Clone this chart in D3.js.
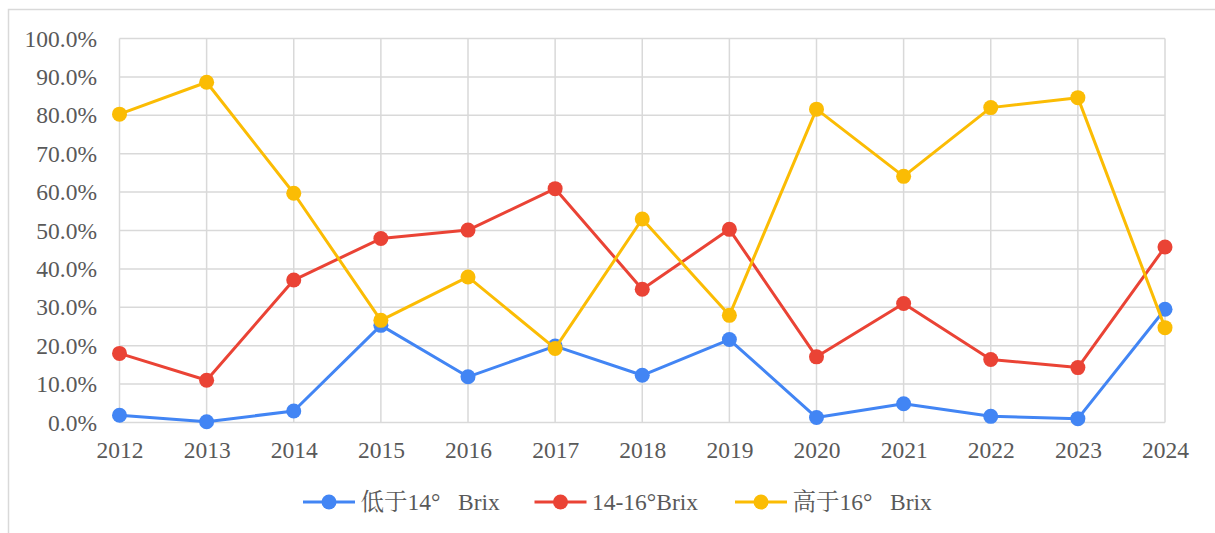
<!DOCTYPE html>
<html>
<head>
<meta charset="utf-8">
<script src="https://cdn.jsdelivr.net/npm/d3@7"></script>
<style>
  body { margin: 0; background: #fff; }
  svg { display: block; }
  text { font-family: "Liberation Serif", "Times New Roman", "Noto Serif CJK SC", serif; fill: #595959; }
</style>
</head>
<body>
<svg id="chart"></svg>
<script>
// data
var years = ["2012", "2013", "2014", "2015", "2016", "2017", "2018", "2019", "2020", "2021", "2022", "2023", "2024"];
var lowBrix = [1.9, 0.2, 3.0, 25.3, 11.9, 19.9, 12.3, 21.6, 1.3, 4.9, 1.6, 1.0, 29.5];
var midBrix = [18.0, 11.0, 37.1, 47.9, 50.1, 60.9, 34.7, 50.3, 17.1, 31.0, 16.4, 14.3, 45.7];
var highBrix = [80.3, 88.6, 59.7, 26.6, 37.9, 19.3, 53.0, 27.9, 81.6, 64.1, 82.0, 84.6, 24.7];
var seriesNames = ["低于14°\u00a0\u00a0\u00a0Brix", "14-16°Brix", "高于16°\u00a0\u00a0\u00a0Brix"];
var yTicks = [0, 10, 20, 30, 40, 50, 60, 70, 80, 90, 100];

var width = 1215, height = 533;
var svg = d3.select("#chart").attr("width", width).attr("height", height);

var colors = ["#4285F4", "#EA4335", "#FBBC04"];
var series = [lowBrix, midBrix, highBrix];
var fontSize = 23.5;

// outer chart border
svg.append("rect")
    .attr("x", 8.5).attr("y", 9.5)
    .attr("width", width).attr("height", height)
    .attr("fill", "none")
    .attr("stroke", "#d9d9d9")
    .attr("stroke-width", 1.5);

var x = d3.scalePoint().domain(years).range([119.5, 1165]);
var y = d3.scaleLinear().domain([0, 100]).range([422.5, 38.5]);

// grid
var grid = svg.append("g");
grid.selectAll("line.h")
    .data(yTicks)
    .enter().append("line")
    .attr("x1", x.range()[0]).attr("x2", x.range()[1])
    .attr("y1", function (d) { return y(d); })
    .attr("y2", function (d) { return y(d); })
    .attr("stroke", "#d9d9d9")
    .attr("stroke-width", 1.5);
grid.selectAll("line.v")
    .data(years)
    .enter().append("line")
    .attr("x1", function (d) { return x(d); })
    .attr("x2", function (d) { return x(d); })
    .attr("y1", y(0)).attr("y2", y(100))
    .attr("stroke", "#d9d9d9")
    .attr("stroke-width", 1.5);

// y axis labels
var yAxis = svg.append("g")
    .attr("transform", "translate(97,0)")
    .call(d3.axisLeft(y).tickValues(yTicks).tickSize(0).tickPadding(0)
        .tickFormat(function (d) { return d.toFixed(1) + "%"; }));
yAxis.select(".domain").remove();
yAxis.selectAll("text").attr("font-size", fontSize);

// x axis labels
var xAxis = svg.append("g")
    .attr("transform", "translate(0," + (y(0) + 19) + ")")
    .call(d3.axisBottom(x).tickSize(0).tickPadding(0));
xAxis.select(".domain").remove();
xAxis.selectAll("text").attr("font-size", fontSize);

// lines and markers
var line = d3.line()
    .x(function (d, i) { return x(years[i]); })
    .y(function (d) { return y(d); });

series.forEach(function (vals, s) {
    var g = svg.append("g");
    g.append("path")
        .datum(vals)
        .attr("d", line)
        .attr("fill", "none")
        .attr("stroke", colors[s])
        .attr("stroke-width", 3)
        .attr("stroke-linejoin", "round");
    g.selectAll("circle")
        .data(vals)
        .enter().append("circle")
        .attr("cx", function (d, i) { return x(years[i]); })
        .attr("cy", function (d) { return y(d); })
        .attr("r", 7.5)
        .attr("fill", colors[s]);
});

// legend
var legendX = [303, 534.5, 735];
var legend = svg.append("g").attr("transform", "translate(0,502)");
seriesNames.forEach(function (name, s) {
    var item = legend.append("g").attr("transform", "translate(" + legendX[s] + ",0)");
    item.append("line")
        .attr("x1", 0).attr("x2", 52)
        .attr("stroke", colors[s])
        .attr("stroke-width", 3);
    item.append("circle")
        .attr("cx", 26).attr("r", 7.5)
        .attr("fill", colors[s]);
    item.append("text")
        .attr("x", 57.5)
        .attr("y", 7.5)
        .attr("font-size", fontSize)
        .text(name);
});
</script>
</body>
</html>
